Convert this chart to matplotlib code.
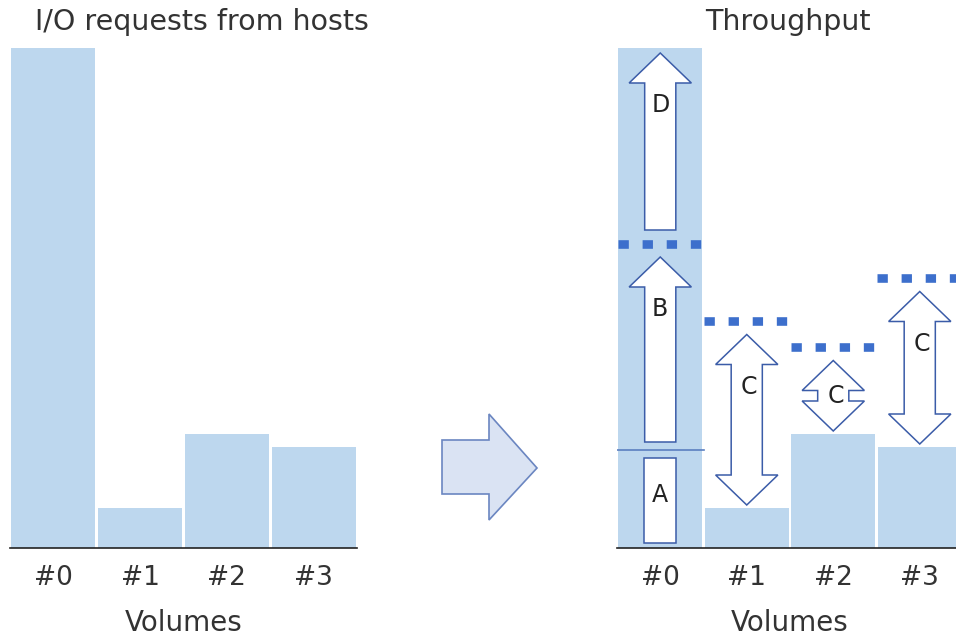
import numpy as np
import matplotlib.pyplot as plt
from matplotlib.patches import Polygon, Rectangle

volumes = ['#0', '#1', '#2', '#3']
requests = [100, 8, 22.8, 20.2]
throughput = [100, 8, 22.8, 20.2]
level_a = 19.6
level_b = 60.8
c_targets = [45.4, 40.2, 54.0]   # volumes #1..#3

BAR = '#bdd7ee'
EDGE = '#3b5ca8'
DOT = '#3d6fcc'
TXT = '#333333'

W, H = 956, 639
fig = plt.figure(figsize=(W / 100, H / 100), dpi=100)

def px(x0, y0, w, h):
    return [x0 / W, (H - y0 - h) / H, w / W, h / H]

def style(ax):
    ax.set_xlim(-0.5, 3.5)
    ax.set_ylim(0, 100)
    for s in ['top', 'left', 'right']:
        ax.spines[s].set_visible(False)
    ax.spines['bottom'].set_color('#222222')
    ax.spines['bottom'].set_linewidth(1.2)
    ax.set_yticks([])
    ax.set_xticks(range(len(volumes)))
    ax.set_xticklabels(volumes, fontsize=19, color=TXT)
    ax.tick_params(axis='x', length=0, pad=12)
    ax.set_xlabel('Volumes', fontsize=20, color=TXT, labelpad=13)
    ax.patch.set_alpha(0)

HEAD, HW, SW = 6.0, 0.36, 0.18

def arrow(ax, x, y0, y1, double):
    # vertical block arrow between y0 and y1, centred on x
    pts = []
    if double:
        pts += [(x, y0), (x + HW, y0 + HEAD), (x + SW, y0 + HEAD)]
    else:
        pts += [(x + SW, y0)]
    pts += [(x + SW, y1 - HEAD), (x + HW, y1 - HEAD), (x, y1),
            (x - HW, y1 - HEAD), (x - SW, y1 - HEAD)]
    if double:
        pts += [(x - SW, y0 + HEAD), (x - HW, y0 + HEAD)]
    else:
        pts += [(x - SW, y0)]
    ax.add_patch(Polygon(pts, closed=True, facecolor='white',
                         edgecolor=EDGE, linewidth=1.1, zorder=3))

def label(ax, x, y0, y1, s):
    y = max((y0 + y1) / 2, y1 - HEAD - 4.5)
    ax.text(x, y, s, fontsize=17, color='#222222', ha='center', va='center',
            zorder=4)

def dots(ax, i, y):
    ax.plot([i - 0.49, i + 0.5], [y, y], color=DOT, linewidth=6.2,
            dashes=(1.2, 1.6), solid_capstyle='butt',
            dash_capstyle='butt', zorder=4)

# left chart
ax1 = fig.add_axes(px(10, 48, 347, 500))
ax1.bar(range(4), requests, width=0.97, color=BAR)
style(ax1)

# right chart
ax2 = fig.add_axes(px(617, 48, 346, 500))
ax2.bar(range(4), throughput, width=0.97, color=BAR)
style(ax2)

ax2.plot([-0.5, 0.5], [level_a, level_a], color='#5b7fc0', linewidth=1.2,
         zorder=2)
ax2.add_patch(Rectangle((-0.185, 1), 0.37, level_a - 2.6, facecolor='white',
                        edgecolor=EDGE, linewidth=1.1, zorder=3))
ax2.text(0, (1 + level_a - 1.6) / 2 + 1, 'A', fontsize=17, color='#222222',
         ha='center', va='center', zorder=4)

b0, b1 = level_a + 1.6, level_b - 2.6
arrow(ax2, 0, b0, b1, False)
label(ax2, 0, b0, b1, 'B')
d0, d1 = level_b + 2.8, throughput[0] - 1
arrow(ax2, 0, d0, d1, False)
label(ax2, 0, d0, d1, 'D')
dots(ax2, 0, level_b)

for i, t in enumerate(c_targets, start=1):
    y0, y1 = throughput[i] + 0.6, t - 2.7
    arrow(ax2, i, y0, y1, True)
    label(ax2, i + 0.03, y0, y1, 'C')
    dots(ax2, i, t)

# titles
fig.text(202 / W, 1 - 22 / H, 'I/O requests from hosts', fontsize=20.5,
         color=TXT, ha='center', va='center')
fig.text(788 / W, 1 - 22 / H, 'Throughput', fontsize=20.5, color=TXT,
         ha='center', va='center')

# big arrow between charts
big = [(442, 440), (489, 440), (489, 414), (537, 468), (489, 520),
       (489, 494), (442, 494)]
fig.add_artist(Polygon([(x / W, 1 - y / H) for x, y in big], closed=True,
                       facecolor='#dae3f3', edgecolor='#6b86c1',
                       linewidth=1.2, transform=fig.transFigure))

fig.savefig('out.png', dpi=100)
